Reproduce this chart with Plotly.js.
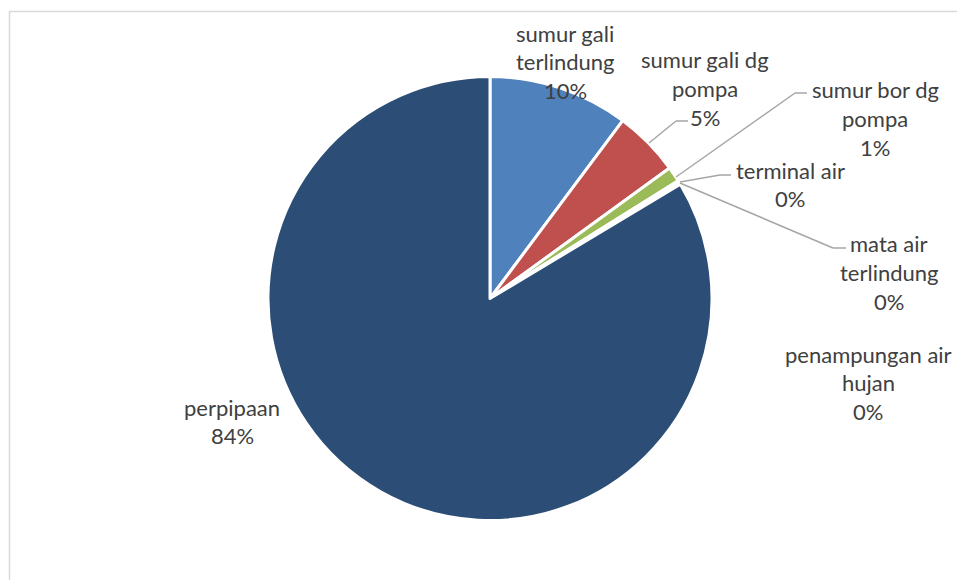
<!DOCTYPE html>
<html>
<head>
<meta charset="utf-8">
<script src="https://cdn.plot.ly/plotly-3.0.1.min.js"></script>
<style>html,body{margin:0;padding:0;background:#fff;}#chart{width:957px;height:580px;}</style>
</head>
<body>
<div id="chart"></div>
<script>
// ---- data ----
const labels = ['sumur gali terlindung', 'sumur gali dg pompa', 'sumur bor dg pompa', 'terminal air', 'mata air terlindung', 'penampungan air hujan', 'perpipaan'];
const values = [10.2, 4.8, 1.1, 0.1, 0.1, 0.1, 83.6];
const colors = ['#4F81BD', '#C0504D', '#9BBB59', '#8064A2', '#4BACC6', '#F79646', '#2C4D75'];

// ---- layout helpers (positions, not data) ----
const W = 957, H = 580;
const px = x => x / W, py = y => 1 - y / H;
const firstLineWords = [2, 3, 3, 2, 2, 2, 1];
const labelPos = [[565, 33], [705, 60], [875, 90], [790, 170], [889, 244], [868, 354], [232, 407]];
const lineGap = 28.6;
const leaders = [
  [[649, 143], [676, 121], [688, 121]],
  [[676, 177], [795, 93], [807, 93]],
  [[680, 182], [720, 175], [731, 175]],
  [[680, 183], [833, 248], [846, 248]]
];

const total = values.reduce((a, b) => a + b, 0);
const annotations = [];
labels.forEach((lab, i) => {
  const words = lab.split(' ');
  const lines = [words.slice(0, firstLineWords[i]).join(' ')];
  if (words.length > firstLineWords[i]) lines.push(words.slice(firstLineWords[i]).join(' '));
  lines.push(Math.round(values[i] / total * 100) + '%');
  lines.forEach((t, k) => {
    annotations.push({
      text: t, xref: 'paper', yref: 'paper',
      x: px(labelPos[i][0]), y: py(labelPos[i][1] + k * lineGap),
      xanchor: 'center', yanchor: 'middle', showarrow: false,
      font: {family: 'Lato, "Open Sans", sans-serif', size: 22, color: '#404040'}
    });
  });
});

const shapes = [{
  type: 'rect', xref: 'paper', yref: 'paper',
  x0: px(9.5), y0: py(11.5), x1: px(W + 10), y1: py(H + 10),
  line: {color: '#D9D9D9', width: 1.5}, fillcolor: 'rgba(0,0,0,0)'
}];
leaders.forEach(pts => {
  for (let k = 0; k < pts.length - 1; k++) {
    shapes.push({
      type: 'line', xref: 'paper', yref: 'paper',
      x0: px(pts[k][0]), y0: py(pts[k][1]), x1: px(pts[k + 1][0]), y1: py(pts[k + 1][1]),
      line: {color: '#A6A6A6', width: 1.5}
    });
  }
});

const cx = 490, cy = 298.5, r = 222;
const trace = {
  type: 'pie', labels: labels, values: values, sort: false,
  direction: 'clockwise', rotation: 0,
  marker: {colors: colors, line: {color: '#FFFFFF', width: 3}},
  textinfo: 'none', hoverinfo: 'label+percent', showlegend: false,
  domain: {x: [px(cx - r), px(cx + r)], y: [py(cy + r), py(cy - r)]}
};

Plotly.newPlot('chart', [trace], {
  width: W, height: H, margin: {l: 0, r: 0, t: 0, b: 0},
  paper_bgcolor: '#FFFFFF', showlegend: false,
  annotations: annotations, shapes: shapes
}, {displayModeBar: false, staticPlot: true});
</script>
</body>
</html>
